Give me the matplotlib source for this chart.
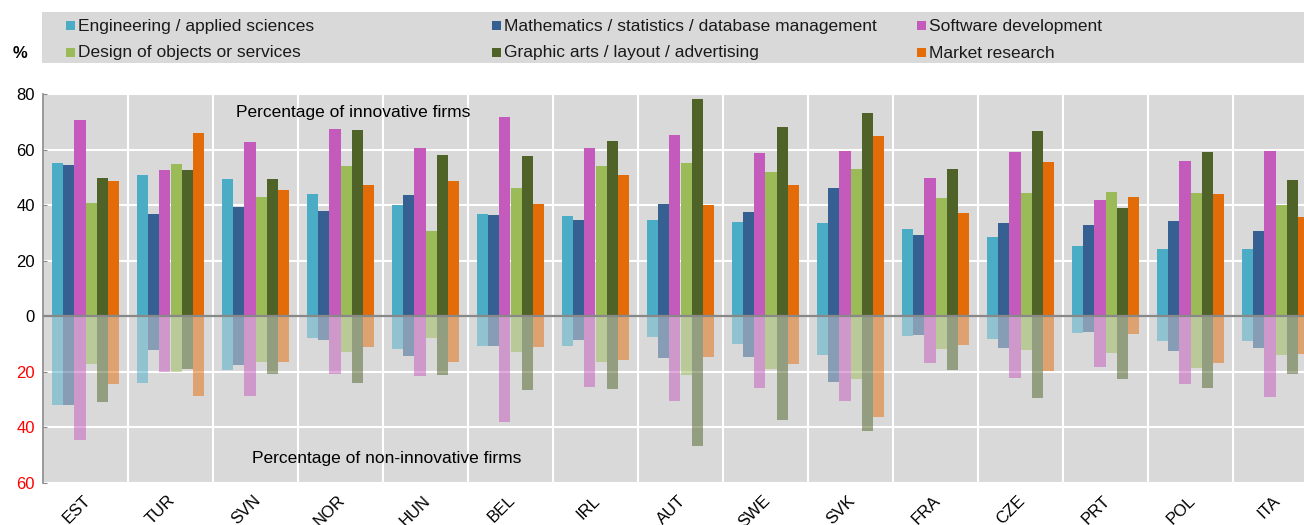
import matplotlib.pyplot as plt
import matplotlib.transforms as mtransforms
import numpy as np
from matplotlib.patches import Rectangle

plt.rcParams["font.family"] = ["Liberation Sans", "DejaVu Sans"]

countries = ["EST", "TUR", "SVN", "NOR", "HUN", "BEL", "IRL", "AUT",
             "SWE", "SVK", "FRA", "CZE", "PRT", "POL", "ITA"]

series = ["Engineering / applied sciences",
          "Mathematics / statistics / database management",
          "Software development",
          "Design of objects or services",
          "Graphic arts / layout / advertising",
          "Market research"]

colors = ["#4bacc6", "#366092", "#c55abd", "#9bbb59", "#4f6228", "#e36c09"]

# share of innovative firms (%)
innov_eng = [55.3, 51.0, 49.3, 44.1, 40.1, 36.7, 36.0, 34.5, 33.9, 33.5, 31.3, 28.4, 25.4, 24.2, 24.1]
innov_math = [54.3, 36.7, 39.5, 37.8, 43.6, 36.5, 34.5, 40.5, 37.6, 46.3, 29.2, 33.6, 33.0, 34.3, 30.7]
innov_soft = [70.6, 52.7, 62.8, 67.5, 60.6, 71.9, 60.7, 65.1, 58.6, 59.6, 49.9, 59.0, 41.8, 55.9, 59.5]
innov_design = [40.7, 54.8, 42.8, 54.0, 30.6, 46.3, 54.0, 55.2, 51.9, 53.1, 42.5, 44.2, 44.9, 44.3, 40.1]
innov_graph = [49.6, 52.7, 49.5, 67.2, 58.1, 57.6, 63.0, 78.2, 68.1, 73.0, 53.1, 66.6, 39.0, 59.3, 48.9]
innov_market = [48.7, 66.0, 45.3, 47.1, 48.7, 40.4, 50.8, 40.1, 47.1, 64.9, 37.3, 55.7, 42.9, 44.0, 35.9]

# share of non-innovative firms (%)
non_eng = [31.8, 24.0, 19.2, 7.7, 11.9, 10.6, 10.8, 7.5, 10.1, 14.1, 7.2, 8.0, 6.1, 9.0, 9.0]
non_math = [32.0, 12.2, 17.5, 8.7, 14.2, 10.8, 8.7, 15.1, 14.8, 23.7, 6.9, 11.3, 5.7, 12.4, 11.3]
non_soft = [44.6, 19.9, 28.7, 20.8, 21.6, 38.1, 25.3, 30.5, 25.8, 30.5, 16.9, 22.2, 18.1, 24.2, 29.0]
non_design = [17.3, 20.0, 16.3, 12.7, 7.8, 12.7, 16.6, 21.0, 18.8, 22.4, 11.9, 12.3, 13.1, 18.6, 14.0]
non_graph = [30.8, 18.9, 20.6, 24.0, 21.3, 26.6, 26.0, 46.6, 37.5, 41.4, 19.5, 29.4, 22.4, 25.8, 20.8]
non_market = [24.2, 28.8, 16.3, 11.2, 16.3, 11.2, 15.8, 14.6, 17.1, 36.4, 10.4, 19.6, 6.5, 16.9, 13.6]

innov = [innov_eng, innov_math, innov_soft, innov_design, innov_graph, innov_market]
non_innov = [non_eng, non_math, non_soft, non_design, non_graph, non_market]

W, H = 1304, 525
fig = plt.figure(figsize=(W / 100, H / 100), dpi=100)
ax = fig.add_axes([43 / W, 42 / H, 1275 / W, 389 / H])
ax.set_facecolor("#d9d9d9")

x = np.arange(len(countries))
bw = 0.13
for k in range(len(series)):
    pos = x + (k - 2.5) * bw
    ax.bar(pos, innov[k], bw, color=colors[k], zorder=2)
    ax.bar(pos, -np.array(non_innov[k]), bw, color=colors[k], alpha=0.5, zorder=2)

ax.axhline(0, color="#888888", lw=1.6, zorder=3)

ax.set_xlim(-0.5, len(countries) - 0.5)
ax.set_ylim(-60, 80)
yt = np.arange(-60, 81, 20)
ax.set_yticks(yt)
ax.set_yticklabels([str(abs(v)) for v in yt], fontsize=12)
for lab, v in zip(ax.get_yticklabels(), yt):
    if v < 0:
        lab.set_color("red")

ax.set_xticks(x)
ax.set_xticklabels(countries, rotation=45, ha="right", rotation_mode="anchor", fontsize=12)
ax.set_xticks(np.arange(-0.5, len(countries), 1), minor=True)
ax.tick_params(axis="x", which="both", length=0, pad=7)
ax.tick_params(axis="y", direction="in", length=3, color="#888888", pad=6)
shift = mtransforms.ScaledTranslation(-3 / 100, 0, fig.dpi_scale_trans)
for lab in ax.get_xticklabels():
    lab.set_transform(lab.get_transform() + shift)

ax.grid(axis="y", color="white", lw=1.5, zorder=1)
ax.grid(axis="x", which="minor", color="white", lw=1.5, zorder=1)
ax.grid(axis="x", which="major", visible=False)
ax.set_axisbelow(True)

for s in ["top", "right", "bottom"]:
    ax.spines[s].set_visible(False)
ax.spines["left"].set_color("#888888")
ax.spines["left"].set_linewidth(1.2)

ax.text(1.77, 73.5, "Percentage of innovative firms", fontsize=12.5, va="center", zorder=4)
ax.text(1.96, -51.2, "Percentage of non-innovative firms", fontsize=12.5, va="center", zorder=4)

# legend box drawn by hand to keep the column positions
fig.add_artist(Rectangle((42 / W, 1 - 63 / H), (W - 42) / W, 51 / H,
                         transform=fig.transFigure, facecolor="#d9d9d9", edgecolor="none"))
col_x = [66, 492, 917]
row_y = [25, 52]
order = [(0, 0), (1, 0), (2, 0), (0, 1), (1, 1), (2, 1)]
for k, (c, r) in enumerate(order):
    fig.add_artist(Rectangle((col_x[c] / W, 1 - (row_y[r] + 4.5) / H), 9 / W, 9 / H,
                             transform=fig.transFigure, facecolor=colors[k], edgecolor="none"))
    fig.text((col_x[c] + 12) / W, 1 - (row_y[r] + 1) / H, series[k], fontsize=12.5,
             va="center", color="#1a1a1a")

fig.text(13 / W, 1 - 53 / H, "%", fontsize=12, fontweight="bold", va="center")

fig.savefig("out.png", dpi=100)
